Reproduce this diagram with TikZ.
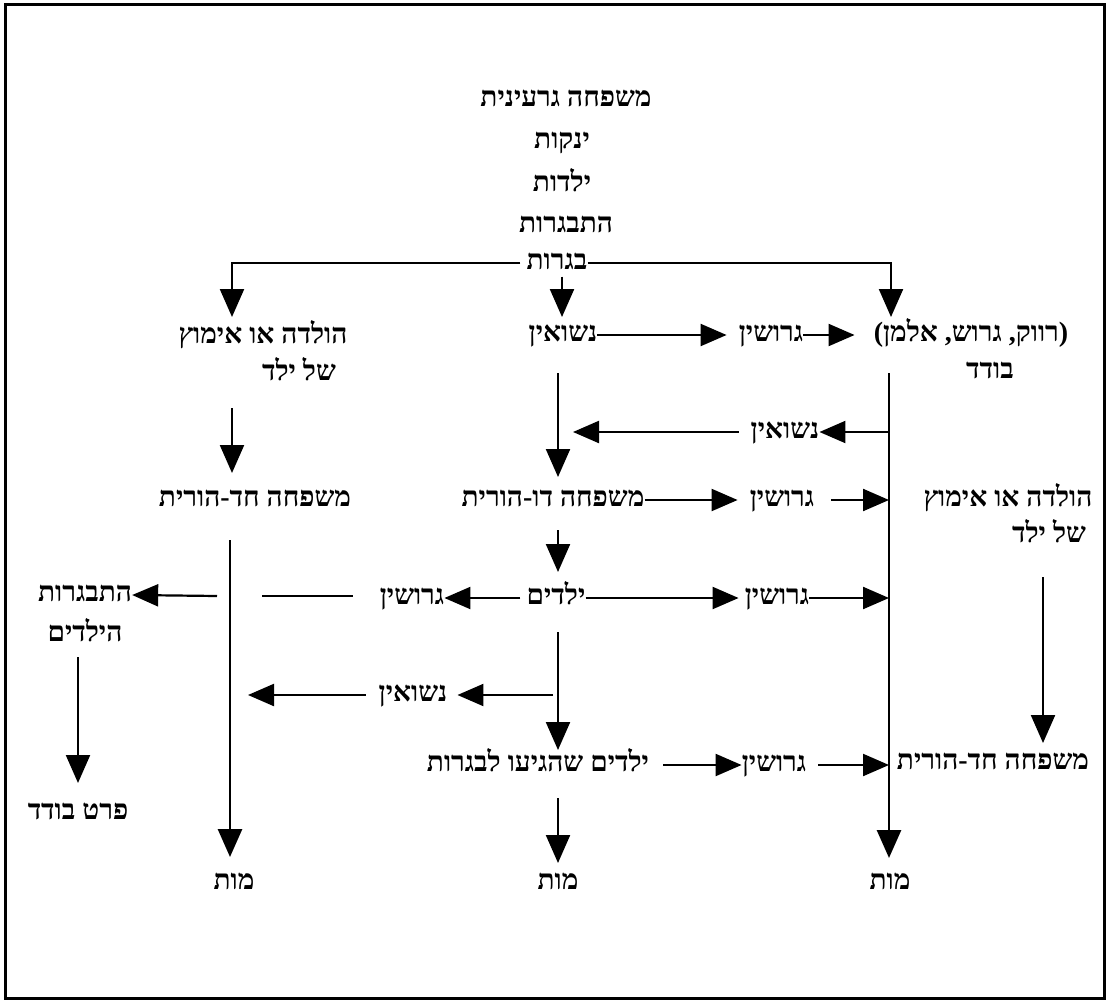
\documentclass[tikz,border=0pt]{standalone}
\usepackage{fontspec}
\usetikzlibrary{arrows.meta}
\TeXXeTstate=1
\newfontfamily\hebfont[Script=Hebrew]{Liberation Serif}
\newcommand\heb[1]{\beginR#1\endR}
\begin{document}
\begin{tikzpicture}[x=1pt,y=-1pt,
  lbl/.style={font=\hebfont\bfseries\fontsize{28}{32}\selectfont, inner sep=0pt, text height=20pt, text depth=7pt},
  va/.style={line width=2.2pt, -{Triangle[length=28pt,width=24pt]}},
  ha/.style={line width=2.2pt, -{Triangle[length=26pt,width=22pt]}},
  ln/.style={line width=2.2pt},
  vl/.style={line width=2.8pt, -{Triangle[length=28pt,width=24pt]}}]
\useasboundingbox (0,0) rectangle (1110,1003);
\draw[line width=3pt] (5,5) rectangle (1104,998);
% top column
\node[lbl] (t1) at (566,100) {\heb{משפחה גרעינית}};
\node[lbl] (t2) at (562,142) {\heb{ינקות}};
\node[lbl] (t3) at (562,185) {\heb{ילדות}};
\node[lbl] (t4) at (566,226) {\heb{התבגרות}};
\node[lbl] (t5) at (557,263) {\heb{בגרות}};
% row 2
\node[lbl] (a1) at (263,337) {\heb{הולדה או אימוץ}};
\node[lbl] (a2) at (299,374) {\heb{של ילד}};
\node[lbl] (m2) at (563,335) {\heb{נשואין}};
\node[lbl] (g2) at (771,335) {\heb{גרושין}};
\node[lbl] (r2) at (971,335) {\heb{(רווק, גרוש, אלמן)}};
\node[lbl] (r2b) at (990,372) {\heb{בודד}};
% row 3
\node[lbl] (n3) at (785,432) {\heb{נשואין}};
% row 4
\node[lbl] (l4) at (255,500) {\heb{משפחה חד-הורית}};
\node[lbl] (m4) at (553,500) {\heb{משפחה דו-הורית}};
\node[lbl] (g4) at (782,500) {\heb{גרושין}};
\node[lbl] (r4a) at (1008,500) {\heb{הולדה או אימוץ}};
\node[lbl] (r4b) at (1049,536) {\heb{של ילד}};
% row 5
\node[lbl] (l5a) at (85,595) {\heb{התבגרות}};
\node[lbl] (l5b) at (85,635) {\heb{הילדים}};
\node[lbl] (g5l) at (412,598) {\heb{גרושין}};
\node[lbl] (m5) at (556,598) {\heb{ילדים}};
\node[lbl] (g5r) at (777,598) {\heb{גרושין}};
% row 6
\node[lbl] (n6) at (413,695) {\heb{נשואין}};
\node[lbl] (p) at (78,813) {\heb{פרט בודד}};
% row 7
\node[lbl] (m7) at (538,765) {\heb{ילדים שהגיעו לבגרות}};
\node[lbl] (g7) at (774,765) {\heb{גרושין}};
\node[lbl] (r7) at (993,763) {\heb{משפחה חד-הורית}};
% row 8
\node[lbl] (d1) at (234,883) {\heb{מות}};
\node[lbl] (d2) at (558,883) {\heb{מות}};
\node[lbl] (d3) at (890,883) {\heb{מות}};

% coordinates
\coordinate (tl) at (232,317);
\coordinate (tr) at (891,317);
\coordinate (tm) at (562,317);
\coordinate (lv1) at (232,408); \coordinate (lv2) at (232,473);
\coordinate (mv1) at (558,373); \coordinate (mv2) at (558,477);
\coordinate (rv1) at (889,373); \coordinate (rv2) at (889,858);
\coordinate (j3) at (889,432); \coordinate (k3) at (573,432);
\coordinate (j4) at (889,500);
\coordinate (lw1) at (230,540); \coordinate (lw2) at (230,857);
\coordinate (s1) at (217,596); \coordinate (s2) at (262,596); \coordinate (s3) at (353,596);
\coordinate (j5) at (889,598);
\coordinate (mv3) at (558,530); \coordinate (mv4) at (558,572);
\coordinate (mv5) at (558,632); \coordinate (mv6) at (558,750);
\coordinate (b6) at (553,695); \coordinate (k6) at (248,695);
\coordinate (j7) at (889,765);
\coordinate (mv7) at (558,798); \coordinate (mv8) at (558,863);
\coordinate (hv1) at (78,657); \coordinate (hv2) at (78,783);
\coordinate (rr1) at (1043,577); \coordinate (rr2) at (1043,743);

% connectors
\draw[ln] ([xshift=-6pt]t5.west) -| (232,290);
\draw[va] (232,290) -- (tl);
\draw[ln] (t5.east) -| (891,290);
\draw[va] (891,290) -- (tr);
\draw[va] (tm |- t5.south) -- (tm);
\draw[ha] (m2.east) -- ([xshift=-12pt]g2.west);
\draw[ha] (g2.east) -- ([xshift=-19pt]r2.west);
\draw[vl] (rv1) -- (rv2);
\draw[va] (lv1) -- (lv2);
\draw[va] (mv1) -- (mv2);
\draw[ha] (j3) -- (n3.east);
\draw[ha] ([xshift=-12pt]n3.west) -- (k3);
\draw[ha] (m4.east) -- ([xshift=-12pt]g4.west);
\draw[ha] ([xshift=17pt]g4.east) -- (j4);
\draw[va] (mv3) -- (mv4);
\draw[va] (rr1) -- (rr2);
\draw[vl] (lw1) -- (lw2);
\draw[ha] (s1) -- (l5a.east);
\draw[ln] (s2) -- (s3);
\draw[ha] ([xshift=-6pt]m5.west) -- (g5l.east);
\draw[ha] (m5.east) -- ([xshift=-6pt]g5r.west);
\draw[ha] (g5r.east) -- (j5);
\draw[va] (hv1) -- (hv2);
\draw[va] (mv5) -- (mv6);
\draw[ha] (b6) -- ([xshift=10pt]n6.east);
\draw[ha] ([xshift=-13pt]n6.west) -- (k6);
\draw[ha] ([xshift=14pt]m7.east) -- (g7.west);
\draw[ha] ([xshift=12pt]g7.east) -- (j7);
\draw[va] (mv7) -- (mv8);
\end{tikzpicture}
\end{document}
